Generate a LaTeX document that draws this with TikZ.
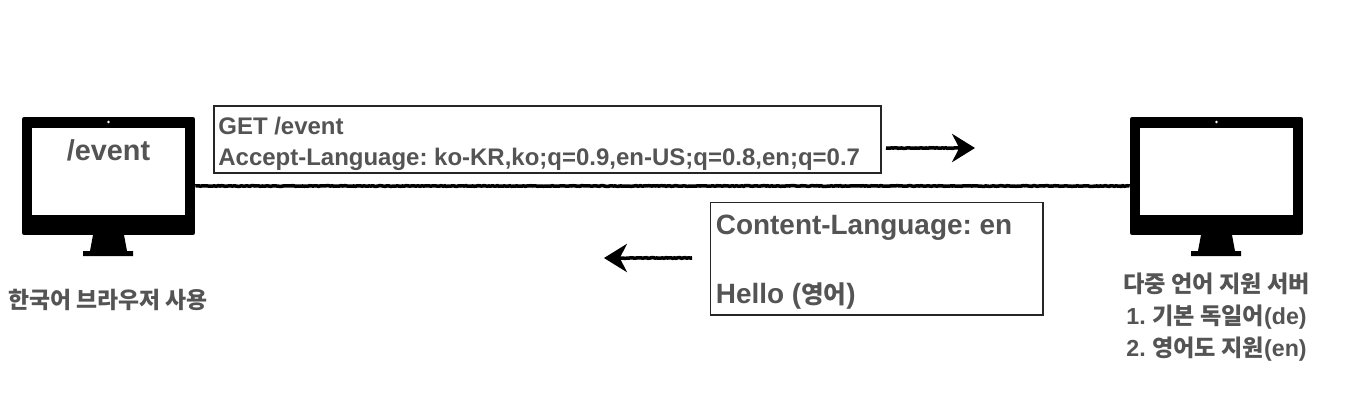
\documentclass[tikz,border=0pt]{standalone}
\usepackage{fontspec}
\setmainfont{Liberation Sans}
\newfontfamily\krfont{Noto Sans CJK KR}
\usetikzlibrary{arrows.meta,decorations.pathmorphing}
\definecolor{txtgray}{gray}{0.33}
\tikzset{
	msgbox/.style={draw=black!85, line width=1.1pt, fill=white, inner sep=0pt, anchor=north west},
	msgtext/.style={text=txtgray, inner sep=0pt, align=left, anchor=base west},
	caption/.style={text=txtgray, inner sep=0pt, align=center},
	monitor/.style={fill=black, rounded corners=1.2pt, minimum width=3.46cm, minimum height=2.36cm, inner sep=0pt},
	screen/.style={fill=white, minimum width=3.06cm, minimum height=1.74cm, inner sep=0pt},
	roughline/.style={line width=2pt, decorate, decoration={random steps, segment length=1pt, amplitude=0.2pt}},
	roughtip/.style={-{Stealth[length=13pt, width=16pt, inset=4pt]}, line width=2pt, decorate, decoration={random steps, segment length=1pt, amplitude=0.2pt, post=lineto, post length=8pt}}
}
\newcommand{\fs}[2]{\fontsize{#1}{#2}\selectfont}
\frenchspacing
\begin{document}
\begin{tikzpicture}[x=0.02cm, y=-0.02cm]
	\useasboundingbox (0, 0) rectangle (1366, 402);

	% client
	\node[monitor] (client) at (108.5, 176) {};
	\node[screen] (clientscreen) at (108.5, 171.5) {};
	\fill[white] (108.5, 122) circle [radius=1.4];
	\fill (93, 235) -- (124, 235) -- (127, 251) -- (133, 251) -- (133, 256) -- (83, 256) -- (83, 251) -- (90, 251) -- cycle;
	\node[text=txtgray, font=\bfseries\fs{16.4pt}{18pt}, inner sep=0pt] (clientpath) at (108.5, 150.5) {/event};
	\node[caption, font=\bfseries\fs{13pt}{18pt}] (clientlabel) at (108, 300) {\krfont 한국어 브라우저 사용};

	% server
	\node[monitor] (server) at (1216.5, 176) {};
	\node[screen] (serverscreen) at (1216.5, 171.5) {};
	\fill[white] (1216.5, 122) circle [radius=1.4];
	\fill (1201, 235) -- (1232, 235) -- (1235, 251) -- (1241, 251) -- (1241, 256) -- (1191, 256) -- (1191, 251) -- (1198, 251) -- cycle;
	\node[caption, font=\bfseries\fs{13.2pt}{18pt}] (serverlabel) at (1216.5, 317) {%
		{\krfont 다중 언어 지원 서버}\\
		1. {\krfont 기본 독일어}(de)\\
		2. {\krfont 영어도 지원}(en)};

	% line between the two
	\draw[roughline] (client.east |- 0, 186) -- (server.west |- 0, 186);

	% request
	\node[msgbox, minimum width=13.34cm, minimum height=1.34cm] (request) at (213, 105) {};
	\node[msgtext, font=\bfseries\fs{13.65pt}{16pt}] (requestget) at (218, 134) {GET /event};
	\node[msgtext, font=\bfseries\fs{13.65pt}{16pt}] (requesthdr) at (218, 166) {Accept-Language: ko-KR,ko;q=0.9,en-US;q=0.8,en;q=0.7};
	\coordinate (requestend) at (975, 148);
	\draw[roughtip] (886, 148) -- (requestend);

	% response
	\node[msgbox, minimum width=6.66cm, minimum height=2.26cm] (response) at (709.5, 201.5) {};
	\node[msgtext, font=\bfseries\fs{15.9pt}{18pt}] (responsehdr) at (715.5, 234) {Content-Language: en};
	\node[msgtext, font=\bfseries\fs{15.9pt}{18pt}] (responsebody) at (715.5, 303) {Hello ({\krfont\fontsize{14pt}{18pt}\selectfont 영어})};
	\coordinate (responseend) at (604, 258);
	\draw[roughtip] (692, 258) -- (responseend);
\end{tikzpicture}
\end{document}
